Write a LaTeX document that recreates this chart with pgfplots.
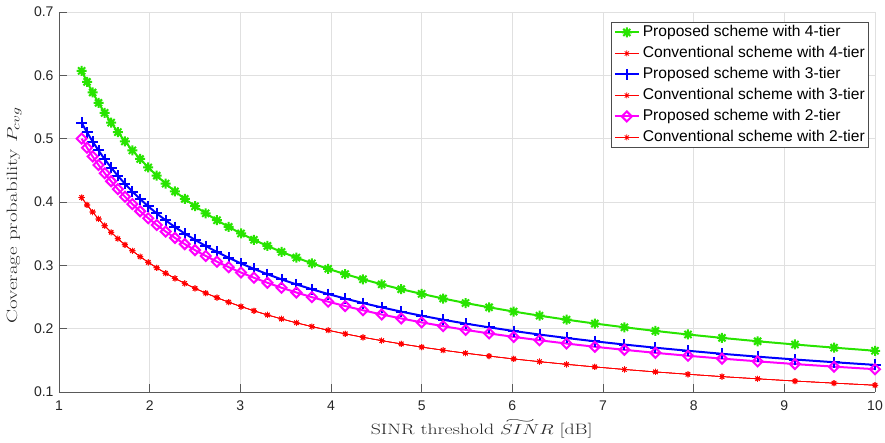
\documentclass[border=0pt]{standalone}
\usepackage{pgfplots}
\pgfplotsset{compat=1.18}
\usepackage{pgfplotstable}
\usepackage{fontspec}
\setsansfont{Liberation Sans}
\usepackage{graphicx}

\definecolor{mgreen}{RGB}{40,228,0}
\definecolor{mblue}{RGB}{0,0,255}
\definecolor{mmag}{RGB}{255,0,255}
\definecolor{mred}{RGB}{255,0,0}

\pgfdeclareplotmark{mstar}{%
  \pgfpathmoveto{\pgfqpoint{-\pgfplotmarksize}{0pt}}\pgfpathlineto{\pgfqpoint{\pgfplotmarksize}{0pt}}%
  \pgfpathmoveto{\pgfqpoint{0pt}{-\pgfplotmarksize}}\pgfpathlineto{\pgfqpoint{0pt}{\pgfplotmarksize}}%
  \pgfpathmoveto{\pgfqpoint{-0.707\pgfplotmarksize}{-0.707\pgfplotmarksize}}\pgfpathlineto{\pgfqpoint{0.707\pgfplotmarksize}{0.707\pgfplotmarksize}}%
  \pgfpathmoveto{\pgfqpoint{-0.707\pgfplotmarksize}{0.707\pgfplotmarksize}}\pgfpathlineto{\pgfqpoint{0.707\pgfplotmarksize}{-0.707\pgfplotmarksize}}%
  \pgfusepathqstroke}
\pgfdeclareplotmark{mdiamond}{%
  \pgfpathmoveto{\pgfqpoint{0pt}{\pgfplotmarksize}}\pgfpathlineto{\pgfqpoint{\pgfplotmarksize}{0pt}}%
  \pgfpathlineto{\pgfqpoint{0pt}{-\pgfplotmarksize}}\pgfpathlineto{\pgfqpoint{-\pgfplotmarksize}{0pt}}%
  \pgfpathclose\pgfusepathqstroke}

\pgfplotstableread{
x g b m r
1.2500 0.6070 0.5250 0.5000 0.4070
1.3091 0.5897 0.5100 0.4857 0.3954
1.3710 0.5729 0.4955 0.4719 0.3841
1.4359 0.5565 0.4814 0.4584 0.3732
1.5038 0.5407 0.4676 0.4454 0.3625
1.5749 0.5253 0.4543 0.4327 0.3522
1.6494 0.5103 0.4413 0.4203 0.3421
1.7274 0.4957 0.4288 0.4083 0.3324
1.8091 0.4816 0.4165 0.3967 0.3229
1.8947 0.4679 0.4047 0.3854 0.3137
1.9843 0.4545 0.3931 0.3744 0.3048
2.0781 0.4416 0.3819 0.3637 0.2961
2.1764 0.4290 0.3710 0.3534 0.2876
2.2793 0.4167 0.3604 0.3433 0.2794
2.3871 0.4049 0.3502 0.3335 0.2715
2.5000 0.3933 0.3402 0.3240 0.2637
2.6182 0.3821 0.3305 0.3148 0.2562
2.7421 0.3712 0.3211 0.3058 0.2489
2.8718 0.3606 0.3119 0.2971 0.2418
3.0076 0.3503 0.3030 0.2886 0.2349
3.1498 0.3403 0.2944 0.2804 0.2282
3.2988 0.3306 0.2860 0.2724 0.2217
3.4548 0.3212 0.2778 0.2646 0.2154
3.6182 0.3121 0.2699 0.2571 0.2092
3.7893 0.3032 0.2622 0.2497 0.2033
3.9685 0.2945 0.2547 0.2426 0.1975
4.1562 0.2861 0.2475 0.2357 0.1918
4.3528 0.2780 0.2404 0.2290 0.1864
4.5586 0.2700 0.2336 0.2224 0.1811
4.7742 0.2623 0.2269 0.2161 0.1759
5.0000 0.2549 0.2204 0.2099 0.1709
5.2365 0.2476 0.2141 0.2039 0.1660
5.4841 0.2405 0.2080 0.1981 0.1613
5.7435 0.2337 0.2021 0.1925 0.1567
6.0151 0.2270 0.1963 0.1870 0.1522
6.2996 0.2205 0.1907 0.1817 0.1479
6.5975 0.2142 0.1853 0.1765 0.1437
6.9096 0.2081 0.1800 0.1714 0.1396
7.2364 0.2022 0.1749 0.1666 0.1356
7.5786 0.1964 0.1699 0.1618 0.1317
7.9370 0.1908 0.1651 0.1572 0.1280
8.3124 0.1854 0.1603 0.1527 0.1243
8.7055 0.1801 0.1558 0.1484 0.1208
9.1172 0.1750 0.1513 0.1441 0.1173
9.5484 0.1700 0.1470 0.1400 0.1140
10.0000 0.1651 0.1428 0.1360 0.1107
}\datatable

\begin{document}
\begin{tikzpicture}
\path[use as bounding box] (-59pt,-51pt) rectangle (826pt,392pt);
\begin{axis}[
  at={(0pt,0pt)}, anchor=south west,
  scale only axis, width=816pt, height=380pt,
  xmin=1, xmax=10, ymin=0.1, ymax=0.7,
  xtick={1,2,3,4,5,6,7,8,9,10},
  ytick={0.1,0.2,0.3,0.4,0.5,0.6,0.7},
  yticklabels={0.1,0.2,0.3,0.4,0.5,0.6,0.7},
  axis x line*=bottom, axis y line*=left,
  axis line style={black!65, line width=0.8pt},
  tick align=inside, major tick length=8pt,
  tick style={black!65, line width=0.8pt},
  grid=major, grid style={black!12, line width=0.8pt},
  /pgf/number format/assume math mode=true,
  tick label style={font=\fontsize{14}{16}\selectfont\sffamily, text=black!85},
  xticklabel style={yshift=-5pt},
  yticklabel style={xshift=-2pt},
  clip=false,
  xlabel={\scalebox{1.32}[1]{SINR threshold ${\rlap{\kern0.22em\raisebox{0.76em}{\scalebox{2.8}[1]{$\scriptstyle\sim$}}}SINR}$ [dB]}},
  xlabel style={at={(axis description cs:0.518,-0.1116)}, anchor=base, font=\fontsize{15}{18}\selectfont, text=black!85},
  ylabel={\scalebox{1.4}[1]{Coverage probability $P_{cvg}$}},
  ylabel style={at={(axis description cs:-0.0551,0.465)}, anchor=center, rotate=0, font=\fontsize{15}{18}\selectfont, text=black!85},
  legend style={at={(rel axis cs:1,1)}, anchor=north east, xshift=-7pt, yshift=-10pt,
    font=\fontsize{15.6}{18}\selectfont\sffamily, draw=black!70, fill=white,
    inner xsep=3pt, inner ysep=3pt, row sep=6.5pt,
    nodes={inner sep=0pt, text height=11pt, text depth=3.5pt},
    /tikz/every odd column/.append style={column sep=3pt}},
  legend cell align=left,
  legend image code/.code={\draw[mark repeat=2,mark phase=2] plot coordinates {(0pt,0pt) (12pt,0pt) (24pt,0pt)};},
]
\addplot[mgreen, line width=2pt, mark=mstar, mark size=5pt] table[x=x,y=g] {\datatable};
\addlegendentry{Proposed scheme with 4-tier}
\addplot[mred, line width=0.7pt, mark=mstar, mark size=3pt] table[x=x,y=r] {\datatable};
\addlegendentry{Conventional scheme with 4-tier}
\addplot[mblue, line width=2pt, mark=+, mark size=5.5pt] table[x=x,y=b] {\datatable};
\addlegendentry{Proposed scheme with 3-tier}
\addplot[mred, line width=0.7pt, mark=mstar, mark size=3pt] table[x=x,y=r] {\datatable};
\addlegendentry{Conventional scheme with 3-tier}
\addplot[mmag, line width=2pt, mark=mdiamond, mark size=5pt] table[x=x,y=m] {\datatable};
\addlegendentry{Proposed scheme with 2-tier}
\addplot[mred, line width=0.7pt, mark=mstar, mark size=3pt] table[x=x,y=r] {\datatable};
\addlegendentry{Conventional scheme with 2-tier}
\end{axis}
\end{tikzpicture}
\end{document}
